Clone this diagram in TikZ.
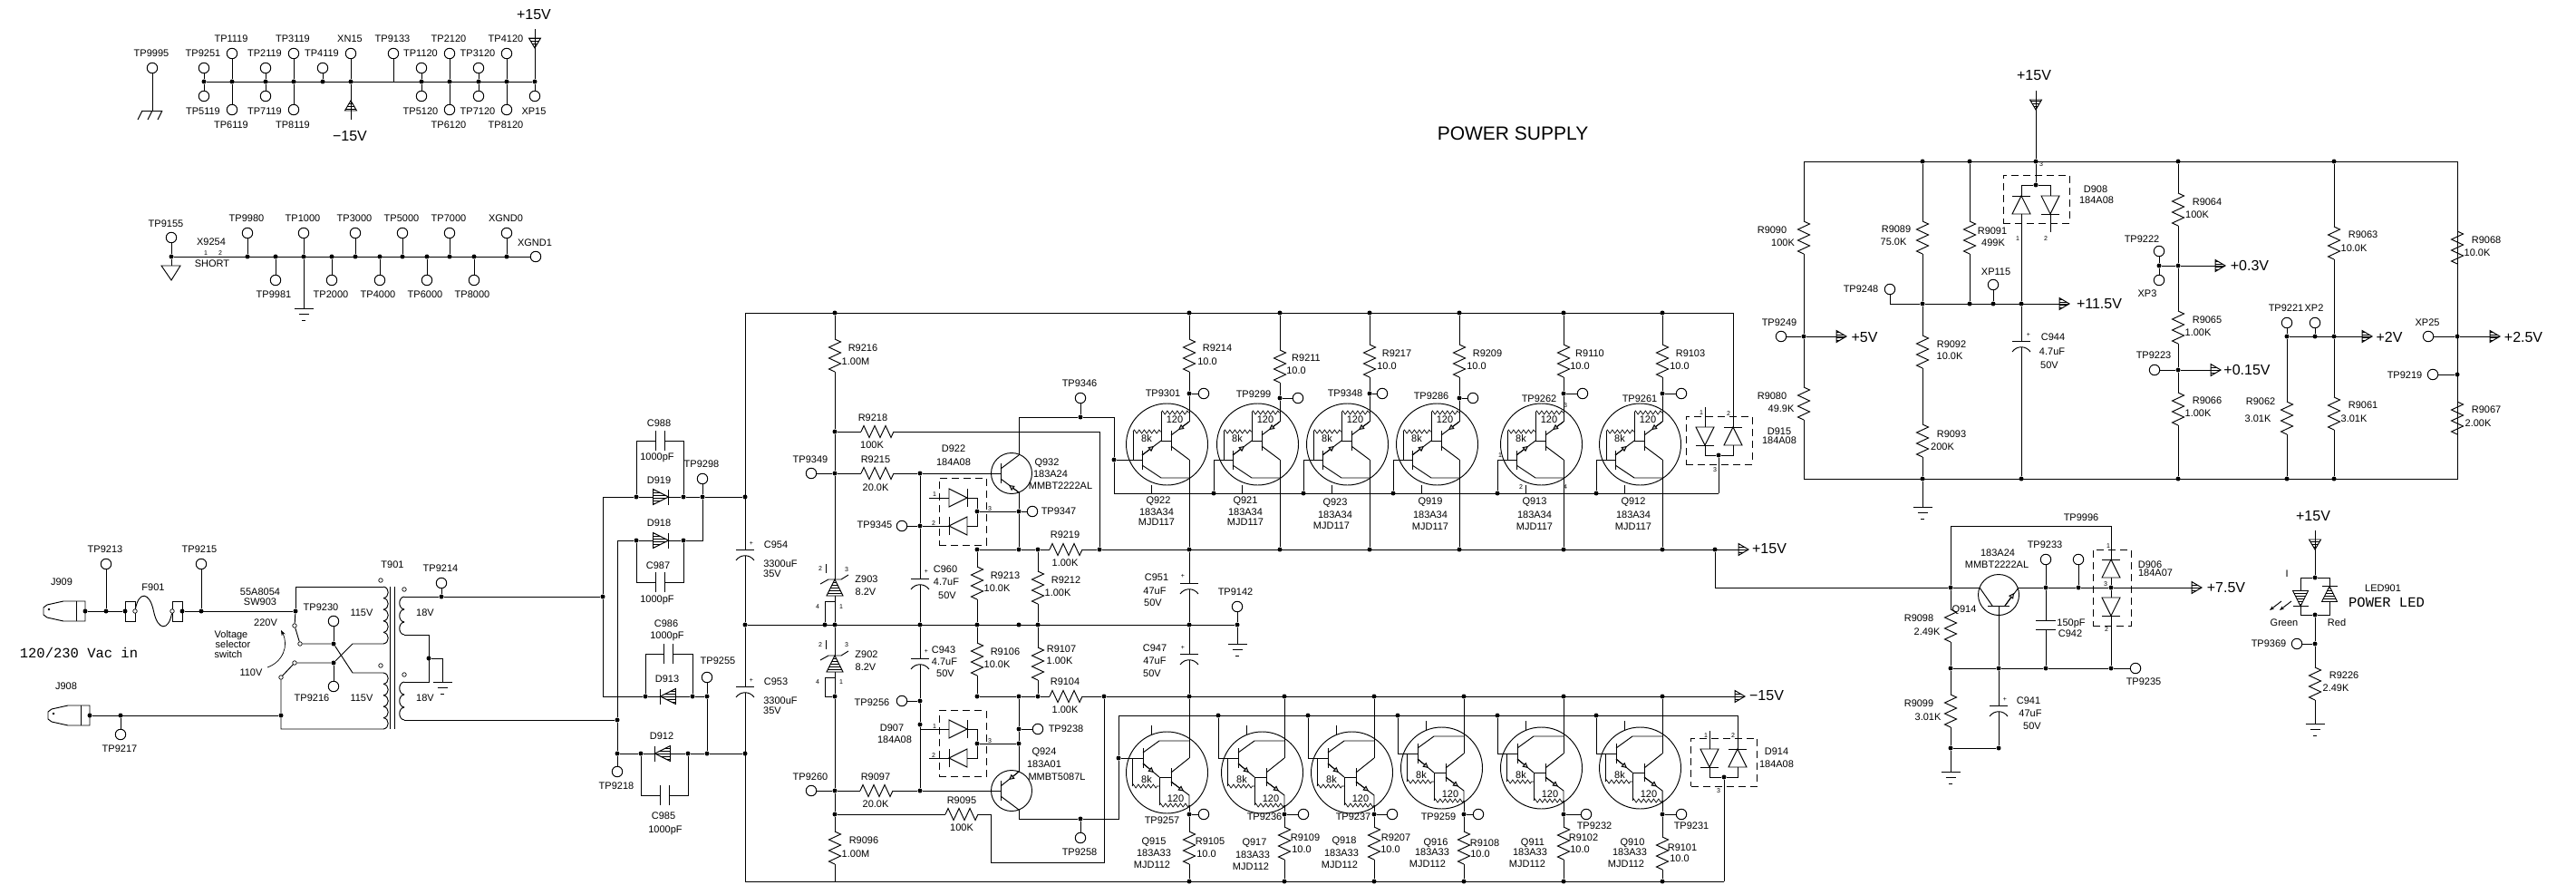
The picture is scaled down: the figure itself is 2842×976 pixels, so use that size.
\documentclass[tikz,border=0pt]{standalone}
\usepackage{fontspec}
\setmainfont{Liberation Sans}
\newfontfamily\monofam{Liberation Mono}
\usepackage{tikz}
\usetikzlibrary{arrows.meta,patterns,decorations.pathmorphing}
\tikzset{
tp/.style = {circle, draw=black, fill=white, minimum size=11.5pt, inner sep=0pt},
dot/.style = {circle, fill=black, minimum size=5pt, inner sep=0pt},
pinhole/.style = {circle, draw=black, fill=white, minimum size=4.5pt, inner sep=0pt, line width=0.7pt},
txt/.style = {inner sep=0pt, font=\fontsize{11}{12}\selectfont},
bigtxt/.style = {inner sep=0pt, font=\fontsize{16}{18}\selectfont},
pintxt/.style = {inner sep=0pt, font=\fontsize{7}{8}\selectfont},
monotxt/.style = {inner sep=0pt, font=\monofam\fontsize{15.5}{18}\selectfont},
dbox/.style = {rectangle, draw=black, dash pattern=on 8pt off 5pt, inner sep=0pt, line width=0.8pt},
vert/.style = {rotate=-90},
hatch/.style = {diofill/.style={pattern=horizontal lines}, scale=0.85},
diofill/.style = {},
etip/.style = {-{Triangle[length=6pt,width=6pt,fill=gray!50]}},
squig/.style = {decorate, decoration={zigzag,segment length=5.5pt,amplitude=2pt}, line width=0.7pt},
res/.pic = {
  \draw (-18,0) -- (-15,-6.5) -- (-9,6.5) -- (-3,-6.5) -- (3,6.5) -- (9,-6.5) -- (15,6.5) -- (18,0);
  \coordinate (-a) at (-18,0);
  \coordinate (-b) at (18,0);
},
capp/.pic = {
  \draw (-10,0) -- (10,0);
  \draw (-10,12) .. controls (-5,5) and (5,5) .. (10,12);
  \coordinate (-t) at (0,0);
  \coordinate (-b) at (0,6.5);
},
capn/.pic = {
  \draw (-5,-11) -- (-5,11);
  \draw (5,-11) -- (5,11);
  \coordinate (-l) at (-5,0);
  \coordinate (-r) at (5,0);
},
dio/.pic = {
  \draw[diofill] (-10,-10) -- (10,0) -- (-10,10) -- cycle;
  \draw (10,-10) -- (10,10);
  \coordinate (-a) at (-10,0);
  \coordinate (-k) at (10,0);
},
railtip/.pic = {
  \draw[pattern=horizontal lines] (-11,-6.5) -- (0,0) -- (-11,6.5) -- cycle;
  \coordinate (-t) at (0,0);
},
gnd/.pic = {
  \draw (-10.5,0) -- (10.5,0);
  \draw (-5.5,6.5) -- (5.5,6.5);
  \draw (-2,13) -- (2,13);
  \coordinate (-t) at (0,0);
},
zener/.pic = {
  \draw[pattern=horizontal lines] (0,0) -- (-9,18) -- (9,18) -- cycle;
  \draw (-16,5) -- (-7,0) -- (7,0) -- (15,-5);
  \draw (-10,-17) -- (-10,-7);
  \coordinate (-k) at (0,0);
  \coordinate (-a) at (0,18);
},
jack/.pic = {
  \draw (0,-11) -- (-24,-11) -- (-42,-7) -- (-46,-4) -- (-46,4) -- (-42,7) -- (-24,11) -- (0,11) -- cycle;
  \draw (-10,-11) -- (-10,11);
  \fill (-40,-2) circle (1.3);
},
qnpn/.pic = {
  \draw (0,0) circle (22.5);
  \draw (-12,-11) -- (-12,11);
  \draw (-12,-5) -- (8,-20);
  \draw (-12,6) -- (8,21);
  \draw[etip] (8,21) -- (-3,13);
  \coordinate (-b) at (-12,0);
  \coordinate (-c) at (8,-20);
  \coordinate (-e) at (8,21);
},
qpnp/.pic = {
  \draw (0,0) circle (22.5);
  \draw (-12,-11) -- (-12,11);
  \draw (-12,-5) -- (8,-21);
  \draw (-12,6) -- (8,21);
  \draw[etip] (8,-21) -- (-3,-12);
  \coordinate (-b) at (-12,0);
  \coordinate (-e) at (8,-21);
  \coordinate (-c) at (8,21);
},
qsense/.pic = {
  \draw (0,0) circle (22.5);
  \draw (-12,12) -- (12,12);
  \draw (-21,-8) -- (-7,12);
  \draw (7,12) -- (22,-8);
  \draw[etip] (7,12) -- (17,-2);
  \coordinate (-l) at (-21,-8);
  \coordinate (-r) at (22,-8);
  \coordinate (-b) at (0,12);
},
darup/.pic = {
  \draw (-24.5,0) circle (45);
  \draw (0,-25) -- (-20,-10);
  \draw[etip] (0,-25) -- (-12,-16);
  \draw (-20,-15) -- (-20,7);
  \draw (-20,2) -- (0,17);
  \draw (-20,-4) -- (-31,-4);
  \draw (-31,-35) -- (-31,-4);
  \draw[squig] (-31,-35) -- (0,-35);
  \draw[squig] (-62,-14) -- (-31,-14);
  \draw (-62,-14) -- (-62,17);
  \draw (-52,7) -- (-52,28);
  \draw (-52,12) -- (-31,-4);
  \draw[etip] (-52,12) -- (-39,2);
  \draw (-52,23) -- (-31,37) -- (0,37);
  \draw (-42,45) -- (-42,54);
  \node[txt] (-rb) at (-16,-27) {120};
  \node[txt] (-rs) at (-47,-6) {8k};
  \coordinate (-e) at (0,-35);
  \coordinate (-c) at (0,17);
  \coordinate (-base) at (-52,17);
},
dardown/.pic = {
  \draw (-24.5,0) circle (45);
  \draw (-51,-27) -- (-51,-5);
  \draw (-51,-22) -- (-33,-35) -- (0,-35);
  \draw (-51,-10) -- (-33,5);
  \draw[etip] (-51,-10) -- (-39,0);
  \draw (-33,5) -- (-20,5);
  \draw (-20,-5) -- (-20,15);
  \draw (-20,0) -- (0,-16);
  \draw (-20,10) -- (0,25) -- (0,36);
  \draw[etip] (-20,10) -- (-6,20.5);
  \draw (-63,-16) -- (-63,15);
  \draw[squig] (-63,15) -- (-33,15);
  \draw (-33,5) -- (-33,36);
  \draw[squig] (-33,36) -- (0,36);
  \draw (-42,-52) -- (-42,-42);
  \node[txt] (-rb) at (-15,29) {120};
  \node[txt] (-rs) at (-47,8) {8k};
  \coordinate (-e) at (0,36);
  \coordinate (-c) at (0,-16);
  \coordinate (-base) at (-51,-16);
},
pics/coil/.style 2 args = {code={
  \foreach \i in {1,...,#1}
    \draw (0,{(\i-1)*#2}) .. controls (7,{(\i-1)*#2+1}) and (7,{\i*#2-1}) .. (0,{\i*#2});
  \coordinate (-t) at (0,0);
  \coordinate (-b) at (0,{#1*#2});
}},
}

\begin{document}
\begin{tikzpicture}[x=1pt, y=-1pt, line width=0.95pt]
\useasboundingbox (0,0) rectangle (2842,976);

\node[inner sep=0pt, font=\fontsize{21}{24}\selectfont] (title) at (1669,147) {POWER SUPPLY};
\node[monotxt] (vacin) at (87,720) {120/230 Vac in};
\node[monotxt] (pwrled) at (2633,664) {POWER LED};

\foreach \n/\x/\y/\lx/\ly in {
TP9995/168/75/167/59, TP9251/225/75/224/59, TP1119/256/59/255/43, TP2119/293/75/292/59,
TP3119/324/59/323/43, TP4119/356/75/355/59, XN15/387/59/386/43, TP9133/434/59/433/43,
TP1120/465/75/464/59, TP2120/496/59/495/43, TP3120/528/75/527/59, TP4120/559/59/558/43,
TP5119/225/106/224/123, TP6119/256/121/255/138, TP7119/293/106/292/123, TP8119/324/121/323/138,
TP5120/465/106/464/123, TP6120/496/121/495/138, TP7120/528/106/527/123, TP8120/559/121/558/138,
XP15/590/106/589/123, TP9155/189/262/183/247, TP9980/273/257/272/241, TP9981/304/309/302/325,
TP1000/335/257/334/241, TP2000/366/309/365/325, TP3000/392/257/391/241, TP4000/419/309/417/325,
TP5000/444/257/443/241, TP6000/471/309/469/325, TP7000/496/257/495/241, TP8000/523/309/521/325,
XGND0/559/257/558/241, XGND1/591/283/590/268,
TP9213/117/622/116/606, TP9215/222/622/220/606, TP9217/133/810/132/826, TP9230/368/685/354/670,
TP9216/368/757/344/770, TP9214/487/643/486/627, TP9218/681/851/680/867, TP9255/780/747/792/729,
TP9298/775/528/774/512, TP9349/895/522/894/507, TP9345/995/580/965/579, TP9346/1192/439/1191/423,
TP9347/1139/564/1168/564, TP9256/995/773/962/775, TP9238/1145/804/1176/804, TP9260/895/872/894/857,
TP9258/1192/924/1191/940, TP9142/1365/669/1363/653,
TP9301/1328/434/1283/434, TP9299/1432/439/1383/435, TP9348/1525/434/1484/434, TP9286/1625/439/1579/437,
TP9262/1746/434/1698/440, TP9261/1855/434/1809/440,
TP9257/1328/898/1282/905, TP9236/1438/898/1395/901, TP9237/1536/898/1493/901, TP9259/1631/898/1587/901,
TP9232/1750/898/1759/911, TP9231/1855/898/1866/911,
TP9249/1965/371/1963/356, TP9248/2085/319/2053/319, XP115/2199/314/2202/300, TP9222/2382/277/2363/264,
XP3/2382/309/2369/324, TP9223/2377/408/2376/392, TP9221/2523/356/2522/340, XP2/2554/356/2553/340,
XP25/2679/371/2678/356, TP9219/2684/413/2653/414, TP9233/2257/617/2256/601, TP9235/2356/737/2365/752,
TP9369/2534/710/2503/710}
{
  \node[tp] (\n) at (\x,\y) {};
  \node[txt] (l\n) at (\lx,\ly) {\n};
}
\node[tp] (TPopen) at (2293,617) {};
\node[txt] (lTP9996) at (2296,571) {TP9996};

\foreach \s/\x/\y [count=\i] in {
X9254/233/267, SHORT/234/291, J909/68/642, F901/169/648, 55A8054/287/653, SW903/287/664, 220V/293/687,
Voltage/255/701, selector/257/711, switch/252/722, 110V/277/742, 115V/399/676, 115V/399/770, 18V/469/676,
18V/469/770, T901/433/623, J908/73/757, D919/727/530, C988/727/467, 1000pF/725/505, D918/727/577,
C987/726/624, 1000pF/725/662, C986/735/688, 1000pF/736/702, D913/736/749, D912/730/812, C985/732/900,
1000pF/734/916, C954/856/601, 3300uF/861/622, 35V/852/633, C953/856/752, 3300uF/861/773, 35V/852/784,
R9216/952/384, 1.00M/944/399, R9218/963/461, 100K/962/491, R9215/966/507, 20.0K/966/538, Q932/1155/511,
183A24/1159/523, MMBT2222AL/1170/536, D922/1052/495, 184A08/1052/510, R9219/1175/590, 1.00K/1175/621,
R9213/1109/635, 10.0K/1100/649, R9212/1176/640, 1.00K/1167/654, C960/1043/628, 4.7uF/1044/642, 50V/1045/657,
Z903/956/639, 8.2V/955/653, Z902/956/722, 8.2V/955/736, R9097/966/857, 20.0K/966/887, Q924/1152/830,
183A01/1152/843, MMBT5087L/1166/857, R9095/1061/883, 100K/1061/913, R9096/953/927, 1.00M/944/942,
C943/1041/717, 4.7uF/1042/730, 50V/1043/743, D907/984/803, 184A08/987/816, R9106/1109/719, 10.0K/1100/733,
R9107/1171/716, 1.00K/1169/729, R9104/1175/752, 1.00K/1175/783, C951/1276/637, 47uF/1274/652, 50V/1272/665,
C947/1274/715, 47uF/1274/729, 50V/1271/743,
R9214/1343/384, 10.0/1332/399, Q922/1278/553, 183A34/1276/565, MJD117/1276/576,
R9211/1441/395, 10.0/1430/409, Q921/1374/553, 183A34/1374/565, MJD117/1374/576,
R9217/1541/390, 10.0/1530/404, Q923/1473/555, 183A34/1473/568, MJD117/1469/580,
R9209/1641/390, 10.0/1629/404, Q919/1578/554, 183A34/1578/568, MJD117/1578/581,
R9110/1754/390, 10.0/1743/404, Q913/1693/554, 183A34/1693/568, MJD117/1693/581,
R9103/1865/390, 10.0/1853/404, Q912/1802/554, 183A34/1802/568, MJD117/1802/581,
D915/1963/476, 184A08/1963/486, D914/1960/829, 184A08/1960/843,
R9105/1335/928, 10.0/1331/942, Q915/1273/929, 183A33/1273/941, MJD112/1271/954,
R9109/1440/924, 10.0/1436/937, Q917/1384/930, 183A33/1382/943, MJD112/1380/956,
R9207/1540/924, 10.0/1534/937, Q918/1483/928, 183A33/1480/941, MJD112/1478/954,
R9108/1638/930, 10.0/1633/942, Q916/1584/930, 183A33/1580/940, MJD112/1575/953,
R9102/1747/924, 10.0/1743/937, Q911/1691/930, 183A33/1688/940, MJD112/1685/953,
R9101/1856/935, 10.0/1853/947, Q910/1801/930, 183A33/1798/940, MJD112/1794/953,
R9090/1955/254, 100K/1967/268, R9080/1955/437, 49.9K/1965/451, R9089/2092/253, 75.0K/2089/267,
R9091/2198/255, 499K/2199/268, R9092/2153/380, 10.0K/2151/393, R9093/2153/479, 200K/2143/493,
D908/2312/209, 184A08/2313/221, C944/2265/372, 4.7uF/2264/388, 50V/2261/403,
R9064/2435/223, 100K/2424/237, R9065/2435/353, 1.00K/2425/367, R9066/2435/442, 1.00K/2425/456,
R9063/2607/259, 10.0K/2597/274, R9062/2494/443, 3.01K/2491/462, R9061/2607/447, 3.01K/2597/462,
R9068/2743/265, 10.0K/2733/279, R9067/2743/452, 2.00K/2734/467,
183A24/2204/610, MMBT2222AL/2203/623, Q914/2167/673, D906/2372/623, 184A07/2378/632,
150pF/2285/688, C942/2284/699, R9098/2117/682, 2.49K/2126/697, R9099/2117/776, 3.01K/2127/791,
C941/2238/773, 47uF/2240/787, 50V/2242/801, Green/2520/687, Red/2578/687, LED901/2629/649,
R9226/2586/745, 2.49K/2577/759, I/2523/633}
  \node[txt] (lab\i) at (\x,\y) {\s};

\foreach \s/\x/\y [count=\i] in {+15V/589/16, −15V/386/150, +15V/1952/605, −15V/1949/767, +15V/2244/83,
+5V/2057/372, +11.5V/2316/335, +0.3V/2482/293, +0.15V/2479/408, +2V/2636/372, +2.5V/2784/372,
+7.5V/2456/648, +15V/2552/569}
  \node[bigtxt] (big\i) at (\x,\y) {\s};

\foreach \s/\x/\y [count=\i] in {1/227/279, 2/243/279, 2/905/627, 3/934/628, 4/902/669, 1/928/669,
2/905/711, 3/934/711, 4/902/752, 1/928/752, 1/1031/545, 2/1030/577, 3/1092/561, 1/1031/801, 2/1030/833,
3/1092/817, 1/1877/455, 2/1907/456, 3/1892/518, 3/1727/447, 1/1655/502, 2/1678/537, 4/1727/537,
1/1882/811, 2/1912/811, 3/1896/872, 3/2252/181, 1/2226/263, 2/2257/263, 1/2326/602, 3/2323/644, 2/2324/694,
+/829/599, +/829/750, +/1022/630, +/1022/718, +/1305/635, +/1305/714, +/2238/369, +/2212/771}
  \node[pintxt] (pin\i) at (\x,\y) {\s};

\foreach \x/\y in {225/90,256/90,293/90,324/90,356/90,387/90,465/90,496/90,528/90,559/90,590/90,
189/283,273/283,304/283,335/283,366/283,392/283,419/283,444/283,471/283,496/283,523/283,559/283,
94/674,117/674,138/674,201/674,222/674,326/674,99/789,133/789,310/789,368/710,368/731,487/658,665/658,
473/726,681/794,702/548,754/548,775/548,822/548,702/596,754/596,712/768,764/768,780/768,681/831,707/831,
759/831,780/831,822/831,822/689,910/689,921/689,1015/689,1078/689,1124/689,1145/689,1312/689,1365/689,
921/345,921/476,921/522,921/768,921/872,921/898,1015/522,1015/580,1078/564,1124/564,1078/606,1124/606,
1145/606,1213/606,1892/606,1192/460,1229/507,1015/773,1015/799,1015/872,1078/768,1124/768,1145/768,
1218/768,1078/820,1124/820,1124/804,1192/903,1234/836,1896/502,1902/857,
1990/371,2121/178,2173/178,2246/178,2246/204,2403/178,2575/178,2121/335,2173/335,2199/335,2230/335,
2121/528,2230/528,2403/528,2523/528,2575/528,2403/293,2382/293,2403/408,2523/371,2554/371,2575/371,
2711/371,2711/413,2152/648,2257/648,2293/648,2329/648,2152/737,2205/737,2257/737,2329/737,2152/825,
2205/825,2554/637,2554/678,2554/710}
  \node[dot] (j\x-\y) at (\x,\y) {};

\foreach \n/\x/\y in {c665-548/665/548,c681-596/681/596,c665-768/665/768,c775-596/775/596,
tl/822/345,tr/1912/345,bl/822/972,br/1902/972,busup/1896/544,busul/1229/544,c1229-460/1229/460,
busdl/1234/789,busdr/1917/789,c1213-476/1213/476,ru/1990/178,rur/2711/178,rd/1990/528,rdr/2711/528,
c326-647/326/647,c310-804/310/804,xa/389/710,xb/389/742,c473-700/473/700,c473-752/473/752,c488-726/488/726,
p15top/590/32,n15bot/387/132,p15b/2246/100,p15led/2554/585,c2152-580/2152/580,c2329-580/2329/580,
free1/1025/549,free2/1025/836,free3/1881/449,free4/1886/806,free5/2262/256}
  \coordinate (\n) at (\x,\y);

\draw (TP9995) -- (168,122);
\draw (157,122) -- (179,122);
\foreach \x in {157,168,179} \draw (\x,122) -- (\x-5,132);

\draw (j225-90) -- (j590-90);
\draw (TP9133) |- (j465-90);
\pic[rotate=90] (aN15) at (387,111) {railtip};
\draw (j387-90) -- (n15bot);
\pic[rotate=-90] (aP15) at (590,53) {railtip};
\draw (p15top) -- (j590-90);

\foreach \a/\b in {TP9251/j225-90,TP5119/j225-90,TP1119/j256-90,TP6119/j256-90,TP2119/j293-90,TP7119/j293-90,
TP3119/j324-90,TP8119/j324-90,TP4119/j356-90,XN15/j387-90,TP1120/j465-90,TP5120/j465-90,TP2120/j496-90,
TP6120/j496-90,TP3120/j528-90,TP7120/j528-90,TP4120/j559-90,TP8120/j559-90,XP15/j590-90,
TP9155/j189-283,TP9980/j273-283,TP9981/j304-283,TP1000/j335-283,TP2000/j366-283,TP3000/j392-283,
TP4000/j419-283,TP5000/j444-283,TP6000/j471-283,TP7000/j496-283,TP8000/j523-283,XGND0/j559-283,
TP9213/j117-674,TP9215/j222-674,TP9217/j133-789,TP9230/j368-710,TP9216/j368-731,TP9214/j487-658,
TP9218/j681-831,TP9255/j780-768,TP9298/j775-548,TP9349/j921-522,TP9345/j1015-580,TP9346/j1192-460,
TP9347/j1124-564,TP9256/j1015-773,TP9238/j1124-804,TP9260/j921-872,TP9258/j1192-903,TP9142/j1365-689,
TP9249/j1990-371,XP115/j2199-335,TP9222/j2382-293,XP3/j2382-293,TP9223/j2403-408,TP9221/j2523-371,
XP2/j2554-371,XP25/j2711-371,TP9219/j2711-413,TP9233/j2257-648,TPopen/j2293-648,TP9235/j2329-737,
TP9369/j2554-710}
  \draw (\a) -- (\b);

\draw (j189-283) -- (XGND1);
\draw (178,293) -- (199,293) -- (189,309) -- cycle;
\draw (j189-283) -- (189,293);
\pic (gA) at (335,340) {gnd};
\draw (j335-283) -- (gA-t);

\pic (J909) at (94,674) {jack};
\pic (J908) at (99,789) {jack};
\node[draw, minimum width=11pt, minimum height=22pt, inner sep=0pt] (fuseL) at (143.5,674) {};
\node[draw, minimum width=11pt, minimum height=22pt, inner sep=0pt] (fuseR) at (195.5,674) {};
\node[pinhole] (fa) at (149,674) {};
\node[pinhole] (fb) at (190,674) {};
\draw (j94-674) -- (j138-674);
\draw (j201-674) -- (j326-674);
\draw (fa) .. controls (153,652) and (165,652) .. (169.5,674) .. controls (174,696) and (186,696) .. (fb);
\draw (j99-789) -- (j310-789);

\node[pinhole] (sw1) at (325,690) {};
\node[pinhole] (sw2) at (331,710) {};
\node[pinhole] (sw3) at (325,731) {};
\node[pinhole] (sw4) at (310,747) {};
\pic (priA) at (423,647) {coil={5}{12.6}};
\pic (priB) at (423,742) {coil={5}{12.4}};
\pic[xscale=-1] (secA) at (446,658) {coil={3}{14}};
\pic[xscale=-1] (secB) at (446,752) {coil={3}{14}};
\node[pinhole] (dot1) at (420,640) {};
\node[pinhole] (dot2) at (420,734) {};
\node[pinhole] (dot3) at (446,650) {};
\node[pinhole] (dot4) at (446,744) {};
\draw (430,647) -- (430,804);
\draw (435,647) -- (435,804);
\draw (j326-674) |- (priA-t);
\draw (j326-674) -- (sw1) -- (sw2) -- (j368-710) -- (xb) -- (priB-t);
\draw (priA-b) -- (xa) -- (j368-731) -- (sw3) -- (sw4) -- (j310-789) -- (c310-804) -- (priB-b);
\coordinate (curveA) at (295,736);
\coordinate (curveB) at (310,695);
\draw[-{Stealth[length=6pt]}, line width=0.7pt] (curveA) .. controls (312,730) and (319,712) .. (curveB);
\draw (secA-t) -- (j487-658) -- (j665-658);
\draw (secB-b) -- (j681-794);
\draw (secA-b) -- (c473-700) -- (c473-752) -- (secB-t);
\pic (gB) at (488,752) {gnd};
\draw (j473-726) -- (c488-726) -- (gB-t);

\pic[hatch] (D919) at (729,548) {dio};
\pic[hatch] (D918) at (729,596) {dio};
\pic[hatch,rotate=180] (D913) at (737,768) {dio};
\pic[hatch,rotate=180] (D912) at (731,831) {dio};
\pic (C988) at (728,486) {capn};
\pic (C987) at (728,642) {capn};
\pic (C986) at (737,721) {capn};
\pic (C985) at (733,877) {capn};
\draw (c665-548) -- (j702-548) -- (D919-a);
\draw (D919-k) -- (j754-548) -- (j775-548) -- (j822-548);
\draw (c681-596) -- (j702-596) -- (D918-a);
\draw (D918-k) -- (j754-596) -- (c775-596) -- (j775-548);
\draw (c665-548) -- (j665-658) -- (c665-768) -- (j712-768) -- (D913-k);
\draw (D913-a) -- (j764-768) -- (j780-768) -- (j780-831);
\draw (c681-596) -- (j681-794) -- (j681-831) -- (j707-831) -- (D912-k);
\draw (D912-a) -- (j759-831) -- (j780-831) -- (j822-831);
\draw (j702-548) |- (C988-l);
\draw (C988-r) -| (j754-548);
\draw (j702-596) |- (C987-l);
\draw (C987-r) -| (j754-596);
\draw (j712-768) |- (C986-l);
\draw (C986-r) -| (j764-768);
\draw (j707-831) |- (C985-l);
\draw (C985-r) -| (j759-831);

\pic (C954) at (822,606) {capp};
\pic (C953) at (822,757) {capp};
\draw (tl) -- (C954-t);
\draw (C954-b) -- (j822-689) -- (C953-t);
\draw (C953-b) -- (bl);
\draw (tl) -- (tr);
\draw (bl) -- (br);
\draw (j822-689) -- (j1365-689);
\pic (g9142) at (1365,710) {gnd};
\draw (j1365-689) -- (g9142-t);

\pic[vert] (R9216) at (921,392) {res};
\pic (R9218) at (968,476) {res};
\pic (R9215) at (968,522) {res};
\pic (Z903) at (921,639) {zener};
\pic (Z902) at (921,723) {zener};
\pic (R9097) at (967,872) {res};
\pic (R9095) at (1061,898) {res};
\pic[vert] (R9096) at (921,935) {res};
\draw (j921-345) -- (R9216-a);
\draw (R9216-b) -- (j921-476) -- (j921-522) -- (Z903-k);
\draw (Z903-a) -- (j921-689) -- (Z902-k);
\draw (Z902-a) -- (j921-768) -- (j921-872) -- (j921-898) -- (R9096-a);
\draw (R9096-b) -- (921,972);
\draw (921,663) -- (910,663) -- (j910-689);
\draw (921,747) -- (910,747) -- (910,768) -- (j921-768);
\draw (j921-476) -- (R9218-a);
\draw (R9218-b) -- (c1213-476) -- (j1213-606);
\draw (j921-522) -- (R9215-a);
\draw (R9215-b) -- (j1015-522);
\draw (j921-872) -- (R9097-a);
\draw (R9097-b) -- (j1015-872);
\draw (j921-898) -- (R9095-a);
\draw (R9095-b) -- (1093,898) -- (1093,951) -- (1218,951) -- (j1218-768);

\pic (C960) at (1015,638) {capp};
\pic (C943) at (1015,726) {capp};
\draw (j1015-522) -- (j1015-580) -- (C960-t);
\draw (C960-b) -- (j1015-689) -- (C943-t);
\draw (C943-b) -- (j1015-773) -- (j1015-799) -- (j1015-872);

\pic (Q932) at (1116,522) {qnpn};
\pic (Q924) at (1116,872) {qpnp};
\draw (j1015-522) -- (Q932-b);
\draw (j1015-872) -- (Q924-b);
\draw (Q932-c) |- (j1192-460) -- (c1229-460) -- (j1229-507) -- (busul);
\draw (Q932-e) -- (j1124-564) -- (j1124-606);
\draw (Q924-e) -- (j1124-820) -- (j1124-804) -- (j1124-768);
\draw (Q924-c) |- (j1192-903) -| (j1234-836) -- (busdl);
\draw (busul) -- (busup);
\draw (busdl) -- (busdr);

\node[dbox, minimum width=52pt, minimum height=74pt] (D922box) at (1062,564) {};
\pic (D922a) at (1057,549) {dio};
\pic[rotate=180] (D922b) at (1057,580) {dio};
\draw (free1) -- (D922a-a);
\draw (j1015-580) -- (D922b-k);
\draw (D922a-k) -| (j1078-564);
\draw (D922b-a) -| (j1078-564);
\draw (j1078-564) -- (j1124-564);
\node[dbox, minimum width=52pt, minimum height=73pt] (D907box) at (1062,820) {};
\pic (D907a) at (1057,804) {dio};
\pic[rotate=180] (D907b) at (1057,836) {dio};
\draw (j1015-799) |- (D907a-a);
\draw (free2) -- (D907b-k);
\draw (D907a-k) -| (j1078-820);
\draw (D907b-a) -| (j1078-820);
\draw (j1078-820) -- (j1124-820);

\pic[vert] (R9213) at (1078,643) {res};
\pic[vert] (R9212) at (1145,648) {res};
\pic[vert] (R9106) at (1078,727) {res};
\pic[vert] (R9107) at (1145,732) {res};
\pic (R9219) at (1176,606) {res};
\pic (R9104) at (1176,768) {res};
\draw (j1078-606) -- (R9213-a);
\draw (R9213-b) -- (j1078-689) -- (R9106-a);
\draw (R9106-b) -- (j1078-768);
\draw (j1145-606) -- (R9212-a);
\draw (R9212-b) -- (j1145-689) -- (R9107-a);
\draw (R9107-b) -- (j1145-768);
\draw (j1078-606) -- (j1124-606) -- (j1145-606) -- (R9219-a);
\draw (R9219-b) -- (j1213-606);
\draw (j1078-768) -- (j1124-768) -- (j1145-768) -- (R9104-a);
\draw (R9104-b) -- (j1218-768);

\pic (a15up) at (1929,606) {railtip};
\pic (a15dn) at (1925,768) {railtip};
\draw (j1213-606) -- (a15up-t);
\draw (j1218-768) -- (a15dn-t);

\foreach \q/\rn/\c/\ry/\ty in {Q922/R9214/1312/392/434, Q921/R9211/1412/404/439, Q923/R9217/1511/398/434,
Q919/R9209/1610/398/439, Q913/R9110/1725/398/434, Q912/R9103/1834/398/434}
{
  \pic (\q) at (\c,490) {darup};
  \pic[vert] (\rn) at (\c,\ry) {res};
  \node[dot] (top\q) at (\c,345) {};
  \node[dot] (tap\q) at (\c,\ty) {};
  \node[dot] (low\q) at (\c,606) {};
  \draw (top\q) -- (\rn-a);
  \draw (\rn-b) -- (tap\q) -- (\q-e);
  \draw (\q-e) -- (\c,465);
  \draw (\q-c) -- (low\q);
}
\draw (j1229-507) -- (Q922-base);
\foreach \q/\c in {Q921/1412, Q923/1511, Q919/1610, Q913/1725, Q912/1834}
{
  \node[dot] (bus\q) at (\c-73,544) {};
  \draw (bus\q) |- (\q-base);
}
\foreach \q/\t in {Q922/TP9301, Q921/TP9299, Q923/TP9348, Q919/TP9286, Q913/TP9262, Q912/TP9261}
  \draw (tap\q) -- (\t);

\foreach \q/\rn/\c/\cy/\ry in {Q915/R9105/1312/852/935, Q917/R9109/1417/852/930, Q918/R9207/1516/852/930,
Q916/R9108/1615/847/935, Q911/R9102/1725/847/930, Q910/R9101/1834/847/941}
{
  \pic (\q) at (\c,\cy) {dardown};
  \pic[vert] (\rn) at (\c,\ry) {res};
  \node[dot] (top\q) at (\c,768) {};
  \node[dot] (tap\q) at (\c,898) {};
  \node[dot] (low\q) at (\c,972) {};
  \draw (top\q) -- (\q-c);
  \draw (\q-e) -- (tap\q) -- (\rn-a);
  \draw (\rn-b) -- (low\q);
}
\draw (j1234-836) -- (Q915-base);
\foreach \q/\c in {Q917/1417, Q918/1516, Q916/1615, Q911/1725, Q910/1834}
{
  \node[dot] (bus\q) at (\c-73,789) {};
  \draw (bus\q) |- (\q-base);
}
\foreach \q/\t in {Q915/TP9257, Q917/TP9236, Q918/TP9237, Q916/TP9259, Q911/TP9232, Q910/TP9231}
  \draw (tap\q) -- (\t);

\pic (C951) at (1312,643) {capp};
\pic (C947) at (1312,721) {capp};
\draw (lowQ922) -- (C951-t);
\draw (C951-b) -- (j1312-689) -- (C947-t);
\draw (C947-b) -- (topQ915);

\node[dbox, minimum width=73pt, minimum height=53pt] (D915box) at (1896.5,485.5) {};
\pic[rotate=-90] (D915a) at (1881,481) {dio};
\pic[rotate=90] (D915b) at (1912,481) {dio};
\draw (free3) -- (D915a-a);
\draw (tr) -- (D915b-k);
\draw (D915a-k) |- (j1896-502);
\draw (D915b-a) |- (j1896-502);
\draw (j1896-502) -- (busup);
\node[dbox, minimum width=73pt, minimum height=53pt] (D914box) at (1902,840.5) {};
\pic[rotate=-90] (D914a) at (1886,836) {dio};
\pic[rotate=90] (D914b) at (1917,836) {dio};
\draw (free4) -- (D914a-a);
\draw (busdr) -- (D914b-k);
\draw (D914a-k) |- (j1902-857);
\draw (D914b-a) |- (j1902-857);
\draw (j1902-857) -- (br);

\draw (ru) -- (rur) -- (rdr) -- (rd);
\pic[rotate=-90] (a15b) at (2246,121) {railtip};
\draw (p15b) -- (j2246-178) -- (j2246-204);
\pic[vert] (R9090) at (1990,262) {res};
\pic[vert] (R9080) at (1990,445) {res};
\pic (a5) at (2037,371) {railtip};
\draw (ru) -- (R9090-a);
\draw (R9090-b) -- (j1990-371) -- (R9080-a);
\draw (R9080-b) -- (rd);
\draw (j1990-371) -- (a5-t);
\pic[vert] (R9089) at (2121,262) {res};
\pic[vert] (R9091) at (2173,262) {res};
\pic[vert] (R9092) at (2121,388) {res};
\pic[vert] (R9093) at (2121,486) {res};
\pic (a115) at (2283,335) {railtip};
\pic (g2121) at (2121,559) {gnd};
\draw (j2121-178) -- (R9089-a);
\draw (R9089-b) -- (j2121-335) -- (R9092-a);
\draw (R9092-b) -- (R9093-a);
\draw (R9093-b) -- (j2121-528) -- (g2121-t);
\draw (j2173-178) -- (R9091-a);
\draw (R9091-b) -- (j2173-335);
\draw (TP9248) |- (j2121-335);
\draw (j2121-335) -- (a115-t);
\node[dbox, minimum width=73pt, minimum height=53pt] (D908box) at (2246.5,219.5) {};
\pic[rotate=90] (D908a) at (2230,226) {dio};
\pic[rotate=-90] (D908b) at (2262,226) {dio};
\draw (j2246-204) -| (D908a-k);
\draw (j2246-204) -| (D908b-a);
\draw (D908b-k) -- (free5);
\pic (C944) at (2230,376) {capp};
\draw (D908a-a) -- (j2230-335) -- (C944-t);
\draw (C944-b) -- (j2230-528);

\pic[vert] (R9064) at (2403,231) {res};
\pic[vert] (R9065) at (2403,361) {res};
\pic[vert] (R9066) at (2403,451) {res};
\pic (a03) at (2455,293) {railtip};
\pic (a015) at (2450,408) {railtip};
\draw (j2403-178) -- (R9064-a);
\draw (R9064-b) -- (j2403-293) -- (R9065-a);
\draw (R9065-b) -- (j2403-408) -- (R9066-a);
\draw (R9066-b) -- (j2403-528);
\draw (j2382-293) -- (j2403-293) -- (a03-t);
\draw (j2403-408) -- (a015-t);
\pic[vert] (R9063) at (2575,268) {res};
\pic[vert] (R9061) at (2575,456) {res};
\pic[vert] (R9062) at (2523,461) {res};
\pic (a2) at (2617,371) {railtip};
\draw (j2575-178) -- (R9063-a);
\draw (R9063-b) -- (j2575-371) -- (R9061-a);
\draw (R9061-b) -- (j2575-528);
\draw (j2523-371) -- (R9062-a);
\draw (R9062-b) -- (j2523-528);
\draw (j2523-371) -- (a2-t);
\pic[vert] (R9068) at (2711,273) {res};
\pic[vert] (R9067) at (2711,461) {res};
\pic (a25) at (2758,371) {railtip};
\draw (rur) -- (R9068-a);
\draw (R9068-b) -- (j2711-371) -- (j2711-413) -- (R9067-a);
\draw (R9067-b) -- (rdr);
\draw (j2711-371) -- (a25-t);

\draw (j1892-606) |- (j2152-648);
\pic (Q914) at (2205,656) {qsense};
\pic (a75) at (2429,648) {railtip};
\draw (j2152-648) -- (Q914-l);
\draw (Q914-r) -- (j2257-648) -- (j2293-648) -- (j2329-648) -- (a75-t);
\draw (j2152-648) -- (c2152-580) -- (c2329-580);
\pic[vert] (R9098) at (2152,690) {res};
\pic[vert] (R9099) at (2152,784) {res};
\pic (C941) at (2205,778) {capp};
\pic[vert] (C942) at (2257,689) {capn};
\pic (g2152) at (2152,851) {gnd};
\draw (j2152-648) -- (R9098-a);
\draw (R9098-b) -- (j2152-737) -- (R9099-a);
\draw (R9099-b) -- (j2152-825) -- (g2152-t);
\draw (Q914-b) -- (j2205-737) -- (C941-t);
\draw (C941-b) -- (j2205-825) -- (j2152-825);
\draw (j2152-737) -- (j2205-737) -- (j2257-737) -- (j2329-737);
\draw (j2257-648) -- (C942-l);
\draw (C942-r) -- (j2257-737);
\node[dbox, minimum width=42pt, minimum height=84pt] (D906box) at (2330,648) {};
\pic[rotate=90] (D906a) at (2329,627) {dio};
\pic[rotate=-90] (D906b) at (2329,669) {dio};
\draw (c2329-580) -- (D906a-k);
\draw (D906a-a) -- (j2329-648) -- (D906b-a);
\draw (D906b-k) -- (j2329-737);

\pic[rotate=-90] (a15led) at (2554,606) {railtip};
\draw (p15led) -- (j2554-637);
\pic[hatch,rotate=-90] (LEDg) at (2538,660) {dio};
\pic[hatch,rotate=90] (LEDr) at (2570,655) {dio};
\draw (j2554-637) -| (LEDg-a);
\draw (j2554-637) -| (LEDr-k);
\draw (j2554-678) -| (LEDg-k);
\draw (j2554-678) -| (LEDr-a);
\draw (j2554-678) -- (j2554-710);
\pic[vert] (R9226) at (2554,754) {res};
\pic (g2554) at (2554,798) {gnd};
\draw (j2554-710) -- (R9226-a);
\draw (R9226-b) -- (g2554-t);
\coordinate (ledA) at (2517,663);
\coordinate (ledB) at (2504,673);
\coordinate (ledC) at (2528,663);
\coordinate (ledD) at (2515,673);
\draw[-{Stealth[length=5pt]}] (ledA) -- (ledB);
\draw[-{Stealth[length=5pt]}] (ledC) -- (ledD);
\end{tikzpicture}
\end{document}
